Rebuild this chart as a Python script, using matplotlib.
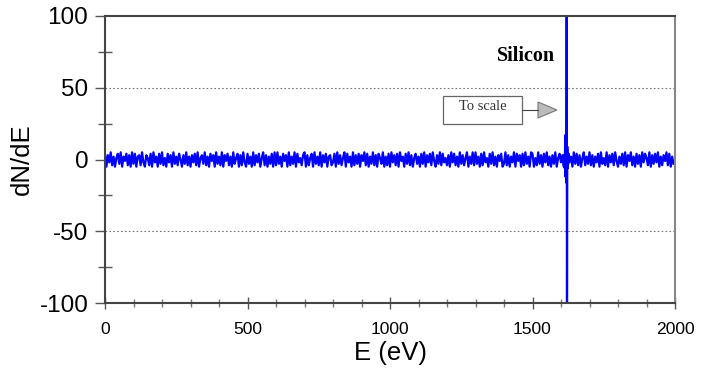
import numpy as np
import matplotlib
matplotlib.use("Agg")
import matplotlib.pyplot as plt
from matplotlib.patches import Polygon, Rectangle

plt.rcParams["axes.unicode_minus"] = False

# ---- data ----
energy_step = 5  # eV grid of the baseline trace
baseline_noise = [
    4, -5, 3, -2, 5, -4, 2, -5, 1, 4, -3, 5, -5, 2, -1, 4, -4, 3, -5, 5,
    -3, 4, -5, 2, 3, -4, 5, -2, -5, 3, 1, -4, 4, -5, 5, -2, 2, -5, 4, -3,
    5, -4, 1, -5, 4, -2, 3, -5, 5, -3, 2, -4, 4, 0, -5, 3, -3, 5, -4, 2,
    -5, 3, -2, 4, -4, 5, -5, 1, 3, -3, 5, -4, 2, -5, 4, -1, 3, -5, 5, -3,
    2, -4, 5, -5, 3, -1, 4, -4, 2, -5, 5, -3, 1, 4, -5, 3, -4, 5, -2, -5,
    4, -3, 2, -5, 5, -4, 3, -2, 4, -5, 1, 5, -4, 3, -5, 2, -3, 4, -5, 5,
    -4, 5, -3, 2, -5, 4, -1, 3, -5, 5, -4, 2, -3, 5, -5, 4, -2, 1, -4, 3,
    5, -5, 3, -4, 1, 4, -5, 5, -3, 2, -4, 5, -5, 3, -2, 4, -5, 2, 3, -4,
    -2, 4, -5, 5, -3, 3, -4, 1, 5, -5, 4, -2, 2, -5, 5, -4, 3, -3, 4, -5,
    3, -1, 5, -4, 4, -5, 2, -3, 5, -4, 3, -5, 4, 1, -3, 5, -5, 2, -4, 4,
    -5, 5, -2, 3, -4, 4, -5, 5, -1, 2, -5, 4, -3, 5, -4, 3, -5, 1, 4, -3,
    2, -5, 4, -3, 5, -5, 3, -2, 4, -4, 5, -1, -5, 3, -3, 5, -4, 4, -2, 1,
    -4, 3, -5, 5, -2, 4, -4, 2, -5, 5, -3, 3, -4, 1, 5, -5, 2, -3, 5, -4,
    5, -3, 2, -5, 4, -4, 5, -2, 1, -5, 4, -3, 5, -4, 2, -5, 3, -1, 4, -5,
    -3, 5, -4, 3, -5, 2, -2, 5, -5, 4, -1, 3, -5, 4, -4, 5, -3, 2, -5, 5,
    4, -5, 1, -4, 5, -3, 3, -5, 4, -2, 5, -4, 2, -5, 3, -3, 5, -5, 1, 4,
    -2, 3, -5, 5, -4, 4, -1, 2, -5, 5, -3, 4, -4, 3, -5, 1, 5, -4, 2, -3,
    5, -4, 3, -5, 2, -2, 4, -5, 5, -3, 1, -4, 5, -5, 3, -2, 4, -4, 5, -1,
    -5, 2, -3, 4, -4, 5, -5, 3, -1, 5, -4, 2, -5, 4, -3, 3, -5, 5, -2, 4,
    1, -4, 5, -5, 3, -3, 4, -2, 5, -5, 2, -4, 3, -1, 5, -4, 4, -5, 2, -3,
]
spike_energy = [1611, 1613, 1615, 1616, 1617, 1618, 1619, 1620, 1621, 1622, 1624, 1627, 1629]
spike_value = [3, -6, 17, -12, 10, -16, 6, 130, -130, 9, -6, 4, -2]

y_ticks = [-100, -50, 0, 50, 100]
x_ticks = [0, 500, 1000, 1500, 2000]

# ---- assemble trace ----
E = np.arange(len(baseline_noise)) * energy_step
V = np.array(baseline_noise, dtype=float)
keep = (E < spike_energy[0]) | (E > spike_energy[-1])
E_all = np.concatenate([E[keep], spike_energy])
V_all = np.concatenate([V[keep], spike_value])
order = np.argsort(E_all, kind="stable")
E_all, V_all = E_all[order], V_all[order]

fig = plt.figure(figsize=(7.11, 3.72), dpi=100)
ax = fig.add_axes([105/711, 1-303/372, 570/711, 287/372])

ax.plot(E_all, V_all, color="#0000ff", lw=1.6, clip_on=True)

ax.set_xlim(0, 2000)
ax.set_ylim(-100, 100)

for yv in (50, -50):
    ax.axhline(yv, color="#777777", lw=0.8, ls=(0, (1.5, 2)), zorder=0)

ax.set_xticks(x_ticks)
ax.set_xticks(np.arange(0, 2001, 100), minor=True)
ax.set_yticks(y_ticks)
ax.set_yticks([-75, -25, 25, 75], minor=True)

ax.tick_params(axis="y", which="major", direction="out", length=7, width=1,
               color="#555555", labelsize=17.5, pad=5)
ax.tick_params(axis="y", which="minor", direction="inout", length=10, width=1,
               color="#555555")
ax.tick_params(axis="x", which="major", direction="inout", length=9, width=1,
               color="#555555", labelsize=12.6, pad=9)
ax.tick_params(axis="x", which="minor", direction="inout", length=6, width=1,
               color="#777777")
for lab in ax.get_xticklabels() + ax.get_yticklabels():
    lab.set_fontfamily("Liberation Sans")

ax.set_xlabel("E (eV)", fontsize=18.5, fontfamily="Liberation Sans", labelpad=3)
ax.set_ylabel("dN/dE", fontsize=18.5, fontfamily="Liberation Sans", labelpad=4)

for side in ("left", "bottom", "top"):
    ax.spines[side].set_color("#444444")
    ax.spines[side].set_linewidth(1.5)
ax.spines["right"].set_color("#888888")
ax.spines["right"].set_linewidth(1.5)

# annotations
ax.text((526-105)/570, (303-56)/287, "Silicon", transform=ax.transAxes,
        ha="center", va="center", fontsize=14.5, fontweight="bold",
        fontfamily="Liberation Serif")

bx0, bx1 = (443-105)/570, (522-105)/570
by0, by1 = (303-124)/287, (303-96)/287
ax.add_patch(Rectangle((bx0, by0), bx1-bx0, by1-by0, transform=ax.transAxes,
                       fill=False, ec="#666666", lw=0.9))
ax.text((483-105)/570, (303-107)/287, "To scale", transform=ax.transAxes,
        ha="center", va="center", fontsize=10.5, fontfamily="Liberation Serif",
        color="#333333")
ymid = (303-110)/287
tx0, tx1 = (538-105)/570, (557-105)/570
ax.plot([bx1, tx0], [ymid, ymid], transform=ax.transAxes, color="#444444", lw=0.8)
ax.add_patch(Polygon([(tx0, (303-102)/287), (tx0, (303-118)/287), (tx1, ymid)],
                     closed=True, transform=ax.transAxes, fc="#bbbbbb", ec="#777777", lw=0.8))

fig.savefig("out.png", dpi=100)
